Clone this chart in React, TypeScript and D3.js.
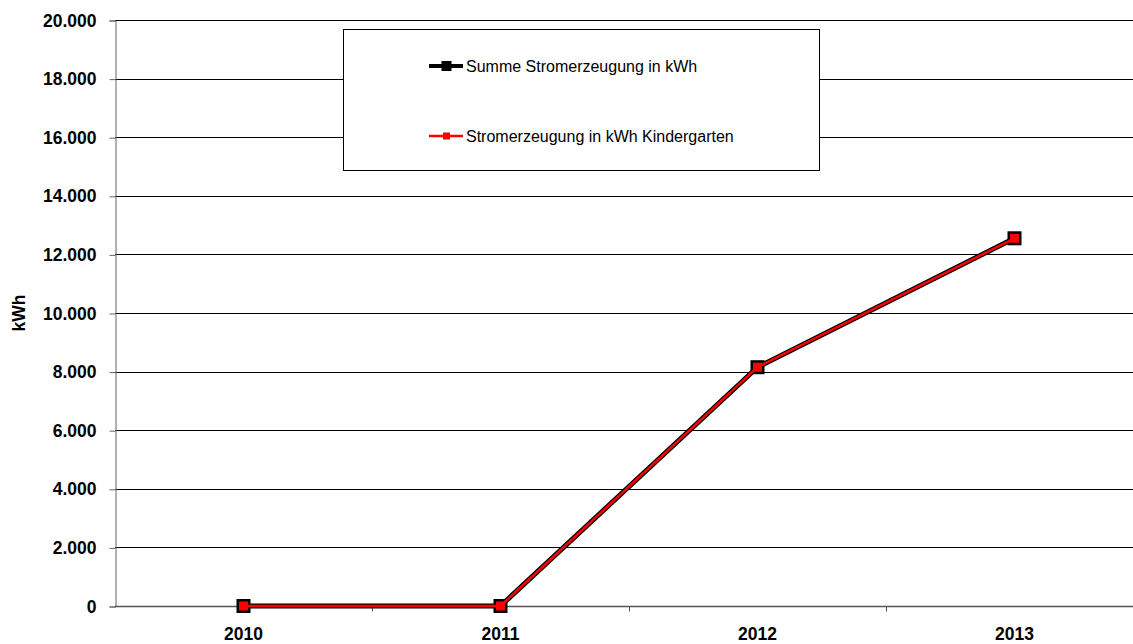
import { useEffect, useRef } from "react";
import * as d3 from "d3";

// Chart data
const years = ["2010", "2011", "2012", "2013"];
const summeValues = [0, 0, 8150, 12550];
const kindergartenValues = [0, 0, 8150, 12550];
const yTicks = [0, 2000, 4000, 6000, 8000, 10000, 12000, 14000, 16000, 18000, 20000];
const legendLabels = ["Summe Stromerzeugung in kWh", "Stromerzeugung in kWh Kindergarten"];

export default function App() {
  const ref = useRef<SVGSVGElement>(null);

  useEffect(() => {
    if (!ref.current) return;
    const svg = d3.select(ref.current);
    svg.selectAll("*").remove();

    const width = 1133;
    const height = 644;
    const margin = { top: 20, right: -10, bottom: 38, left: 115 };
    const font = "Liberation Sans, Arial, sans-serif";

    const x = d3.scaleBand()
      .domain(years)
      .range([margin.left, width - margin.right]);

    const y = d3.scaleLinear()
      .domain([0, 20000])
      .range([height - margin.bottom, margin.top]);

    const fmt = (v: number) => d3.format(",")(v).replace(/,/g, ".");

    // horizontal grid lines
    svg.append("g")
      .selectAll("line")
      .data(yTicks.filter(t => t > 0))
      .join("line")
        .attr("x1", margin.left)
        .attr("x2", width)
        .attr("y1", d => Math.round(y(d)) + 0.5)
        .attr("y2", d => Math.round(y(d)) + 0.5)
        .attr("stroke", "#000")
        .attr("stroke-width", 1);

    // y axis
    const yAxis = svg.append("g")
      .attr("transform", `translate(${margin.left + 0.5},0.5)`)
      .call(d3.axisLeft(y).tickValues(yTicks).tickFormat(d => fmt(+d)).tickSize(6).tickPadding(13));
    yAxis.select(".domain").attr("stroke", "#666");
    yAxis.selectAll(".tick line").attr("stroke", "#666");
    yAxis.selectAll(".tick text")
      .attr("font-family", font)
      .attr("font-size", 17.5)
      .attr("font-weight", "bold")
      .attr("fill", "#000");

    // x axis
    const x0 = Math.round(y(0)) + 0.5;
    const xg = svg.append("g");
    xg.append("line")
      .attr("x1", margin.left).attr("x2", width)
      .attr("y1", x0).attr("y2", x0)
      .attr("stroke", "#555").attr("stroke-width", 1.5);
    xg.selectAll("line.tk")
      .data(years.slice(1))
      .join("line")
        .attr("class", "tk")
        .attr("x1", d => Math.round(x(d)!) + 0.5)
        .attr("x2", d => Math.round(x(d)!) + 0.5)
        .attr("y1", x0)
        .attr("y2", x0 + 5)
        .attr("stroke", "#555");
    xg.selectAll("text")
      .data(years)
      .join("text")
        .attr("x", d => x(d)! + x.bandwidth() / 2)
        .attr("y", 640)
        .attr("text-anchor", "middle")
        .attr("font-family", font)
        .attr("font-size", 17.5)
        .attr("font-weight", "bold")
        .text(d => d);

    // y axis title
    svg.append("text")
      .attr("transform", `translate(25,${(y(0) + y(20000)) / 2}) rotate(-90)`)
      .attr("text-anchor", "middle")
      .attr("font-family", font)
      .attr("font-size", 17.5)
      .attr("font-weight", "bold")
      .text("kWh");

    const cx = (d: string) => x(d)! + x.bandwidth() / 2;
    const line = d3.line<number>()
      .x((_, i) => cx(years[i]))
      .y(d => y(d));

    // series 1 (black)
    svg.append("path")
      .datum(summeValues)
      .attr("d", line)
      .attr("fill", "none")
      .attr("stroke", "#000")
      .attr("stroke-width", 5);
    svg.append("g")
      .selectAll("rect")
      .data(summeValues)
      .join("rect")
        .attr("x", (_, i) => cx(years[i]) - 7)
        .attr("y", d => y(d) - 7)
        .attr("width", 14)
        .attr("height", 14)
        .attr("fill", "#000");

    // series 2 (red)
    svg.append("path")
      .datum(kindergartenValues)
      .attr("d", line)
      .attr("fill", "none")
      .attr("stroke", "#ff0000")
      .attr("stroke-width", 2.5);
    svg.append("g")
      .selectAll("rect")
      .data(kindergartenValues)
      .join("rect")
        .attr("x", (_, i) => cx(years[i]) - 4.5)
        .attr("y", d => y(d) - 4.5)
        .attr("width", 9)
        .attr("height", 9)
        .attr("fill", "#ff0000");

    // legend
    const lg = svg.append("g");
    lg.append("rect")
      .attr("x", 343.5).attr("y", 29.5)
      .attr("width", 476).attr("height", 141)
      .attr("fill", "#fff")
      .attr("stroke", "#000");
    const entries = [
      { label: legendLabels[0], color: "#000", lw: 4, ms: 10, y: 66 },
      { label: legendLabels[1], color: "#ff0000", lw: 2.5, ms: 7, y: 136 },
    ];
    entries.forEach(e => {
      lg.append("line")
        .attr("x1", 429).attr("x2", 463)
        .attr("y1", e.y).attr("y2", e.y)
        .attr("stroke", e.color).attr("stroke-width", e.lw);
      lg.append("rect")
        .attr("x", 446.5 - e.ms / 2).attr("y", e.y - e.ms / 2)
        .attr("width", e.ms).attr("height", e.ms)
        .attr("fill", e.color);
      lg.append("text")
        .attr("x", 466).attr("y", e.y + 5.5)
        .attr("font-family", font)
        .attr("font-size", 16)
        .text(e.label);
    });
  }, []);

  return (
    <svg ref={ref} width={1133} height={644} style={{ position: "absolute", left: 0, top: 0 }} />
  );
}
